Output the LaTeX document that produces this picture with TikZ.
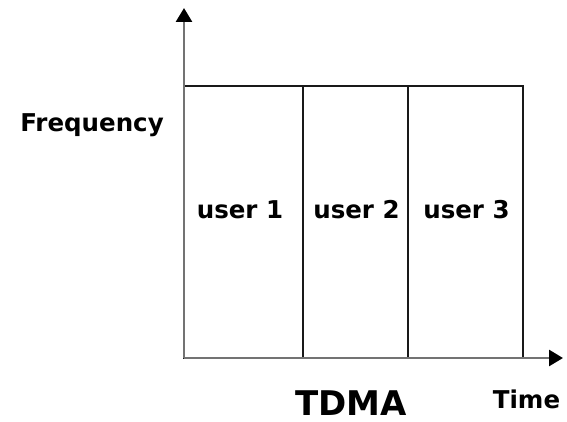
\documentclass[tikz,border=0pt]{standalone}
\usepackage{fontspec}
\setmainfont{DejaVu Sans}
\usetikzlibrary{arrows.meta}
\begin{document}
\begin{tikzpicture}[x=1pt,y=-1pt,
  slot/.style={draw=black!90, line width=1.8pt, inner sep=0pt, outer sep=0pt,
               minimum height=272pt},
  axis/.style={draw=black!55, line width=2.6pt,
               -{Triangle[length=14pt,width=16pt,black]}},
  lbl/.style={font=\fontsize{24.5}{28}\selectfont\bfseries, inner sep=0pt, anchor=base},
  title/.style={font=\fontsize{34}{40}\selectfont\bfseries, inner sep=0pt, anchor=base}
]
\useasboundingbox (0,0) rectangle (567,422);

% time slots
\node[slot, minimum width=119pt] (slot1) at (243.5,222) {};
\node[slot, minimum width=105pt] (slot2) at (355.5,222) {};
\node[slot, minimum width=115pt] (slot3) at (465.5,222) {};

% slot labels
\node[lbl] (user1) at (240,218) {user 1};
\node[lbl] (user2) at (356.5,218) {user 2};
\node[lbl] (user3) at (466.5,218) {user 3};

% axes
\coordinate (origin) at (184,358);
\coordinate (ftop) at (184,8);
\coordinate (tend) at (563,358);
\draw[axis] (origin) -- (ftop);
\draw[axis] (origin) -- (tend);

% axis names and title
\node[lbl] (freq) at (92,132) {Frequency};
\node[lbl] (time) at (526.5,408) {Time};
\node[title] (tdma) at (351,415) {TDMA};
\end{tikzpicture}
\end{document}
